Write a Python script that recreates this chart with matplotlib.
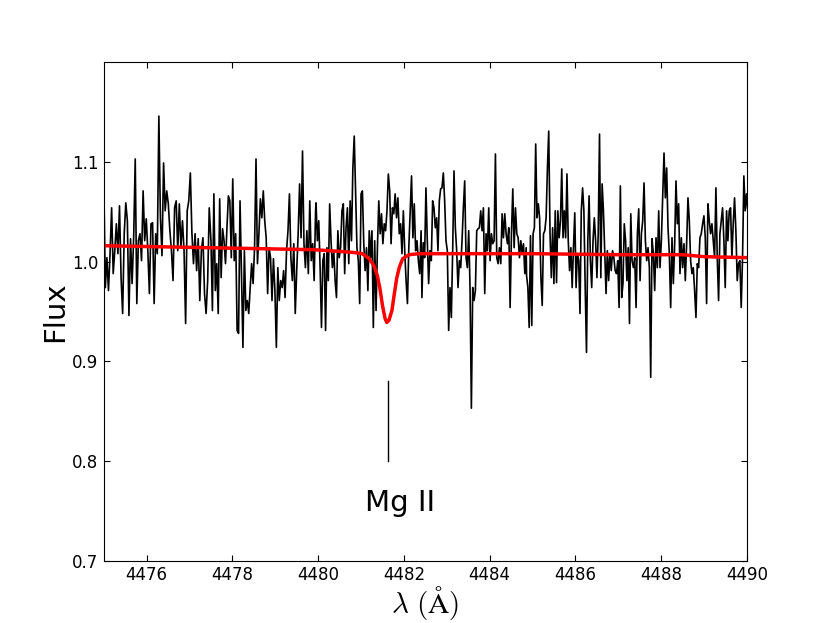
import numpy as np
import matplotlib
matplotlib.use('Agg')
import matplotlib.pyplot as plt

plt.rcParams['mathtext.fontset'] = 'cm'
plt.rcParams['xtick.direction'] = 'in'
plt.rcParams['ytick.direction'] = 'in'
plt.rcParams['xtick.top'] = True
plt.rcParams['ytick.right'] = True

seg_ranges = [(4475.00, 4477.46), (4477.50, 4479.94), (4479.95, 4482.40),
              (4482.42, 4484.85), (4484.86, 4487.29), (4487.32, 4490.02)]

flux_1 = [1.084, 0.974, 1.004, 0.971, 1.008, 1.054, 0.988, 1.011, 1.038, 1.008,
          1.056, 0.984, 0.948, 1.028, 1.059, 1.041, 0.946, 1.023, 0.978, 1.024,
          1.103, 0.958, 1.021, 1.028, 1.001, 1.071, 1.021, 1.043, 1.011, 0.968,
          1.038, 1.039, 0.958, 1.028, 1.008, 1.146, 1.044, 1.006, 1.099, 1.051,
          1.071, 1.058, 1.031, 1.011, 0.981, 1.054, 1.061, 1.011, 1.058, 1.014,
          1.041, 1.011, 0.938, 1.051, 1.061, 1.089, 1.028, 0.998, 1.028, 0.991,
          1.023, 0.961, 1.011, 1.024, 0.968, 0.948, 0.981, 1.054]

flux_2 = [1.021, 0.951, 1.068, 0.971, 0.998, 0.948, 1.063, 0.984, 1.033, 1.021,
          0.998, 1.034, 1.066, 1.061, 1.004, 1.083, 1.001, 1.028, 0.931, 0.928,
          1.061, 0.988, 0.914, 1.011, 0.951, 0.961, 0.948, 0.974, 0.998, 0.978,
          1.014, 1.103, 0.998, 1.028, 1.063, 1.044, 1.071, 1.041, 1.024, 0.968,
          1.014, 1.004, 0.961, 1.003, 0.971, 0.914, 0.994, 0.961, 0.981, 0.974,
          0.991, 0.964, 1.011, 1.031, 1.068, 1.004, 0.981, 1.018, 0.948, 0.991,
          1.028, 1.078, 1.024, 1.111, 1.018, 0.994, 1.031, 0.988, 1.061, 1.001,
          1.018, 0.981, 1.051]

flux_3 = [1.059, 1.021, 1.041, 0.994, 0.934, 1.001, 1.008, 0.931, 1.014, 0.981,
          1.058, 1.021, 0.994, 1.011, 0.981, 0.964, 1.031, 1.004, 1.014, 1.051,
          1.058, 0.988, 1.034, 1.054, 0.998, 1.061, 1.021, 1.094, 1.126, 1.068,
          1.014, 1.001, 0.958, 1.068, 1.071, 1.018, 0.991, 1.014, 0.971, 1.031,
          1.004, 1.031, 0.934, 1.021, 0.951, 1.014, 1.061, 1.028, 1.048, 1.018,
          1.038, 1.031, 1.051, 1.088, 1.071, 1.018, 1.054, 1.048, 1.068, 1.044,
          1.064, 1.028, 1.038, 1.008, 1.051, 1.011, 0.981, 0.958, 1.014, 1.051,
          1.086, 1.024, 1.058, 1.011, 1.021, 1.001, 0.988, 1.031]

flux_4 = [0.964, 1.019, 1.004, 1.074, 1.021, 0.978, 1.011, 1.001, 1.061, 1.054,
          1.034, 1.044, 1.011, 1.061, 1.073, 1.074, 1.089, 1.061, 1.021, 1.011,
          0.931, 0.974, 0.944, 1.011, 1.091, 1.034, 1.011, 0.974, 1.001, 0.994,
          1.021, 1.054, 1.081, 1.004, 0.994, 1.031, 0.974, 0.853, 0.974, 0.961,
          0.971, 1.031, 1.033, 1.034, 1.051, 1.031, 1.054, 0.968, 1.028, 1.011,
          1.054, 1.001, 1.028, 1.018, 1.021, 1.108, 1.004, 0.998, 1.014, 0.998,
          1.048, 1.024, 1.048, 1.028, 1.018, 1.034, 0.954, 1.028, 1.073, 1.014,
          1.054, 1.028, 1.024, 1.004, 1.021, 1.008, 1.018, 0.988, 1.014]

flux_5 = [0.986, 0.974, 0.934, 1.026, 0.936, 1.028, 1.034, 1.118, 1.044, 1.058,
          1.044, 0.984, 0.956, 1.028, 1.031, 1.044, 1.094, 1.131, 1.028, 0.984,
          1.034, 0.978, 1.051, 0.979, 1.051, 1.024, 1.041, 1.093, 1.024, 1.051,
          1.024, 1.088, 1.021, 0.991, 1.014, 0.974, 1.014, 1.049, 0.974, 1.008,
          1.001, 0.948, 1.051, 1.074, 1.051, 0.974, 0.909, 1.021, 1.066, 1.001,
          0.974, 1.021, 1.044, 1.021, 0.984, 1.028, 1.128, 0.984, 1.078, 1.051,
          1.008, 0.968, 1.011, 0.981, 1.008, 0.991, 1.011, 1.004, 0.991, 0.988,
          1.001, 0.954, 1.076, 0.964, 0.978, 1.038, 1.021, 0.981, 1.014, 0.938,
          1.048]

flux_6 = [1.001, 0.994, 1.004, 0.954, 1.028, 1.053, 0.981, 1.028, 1.041, 1.079,
          1.021, 1.001, 1.014, 0.994, 0.884, 1.023, 1.008, 0.971, 1.024, 0.994,
          1.051, 0.994, 1.021, 1.064, 1.109, 1.064, 1.094, 1.034, 1.008, 0.954,
          1.024, 0.978, 1.018, 1.081, 1.038, 1.058, 0.988, 1.024, 0.994, 1.018,
          0.981, 1.018, 1.064, 1.041, 1.001, 0.988, 0.994, 0.971, 0.944, 0.998,
          0.994, 1.024, 1.028, 1.038, 1.046, 1.024, 0.958, 1.058, 1.041, 1.028,
          1.038, 1.021, 1.004, 1.074, 1.004, 0.961, 1.028, 1.041, 1.054, 1.021,
          0.974, 1.051, 1.021, 1.051, 1.054, 1.004, 1.038, 1.064, 1.031, 0.981,
          0.998, 1.001, 0.954, 1.004, 1.086, 1.051, 1.068, 1.051]

flux_segments = [flux_1, flux_2, flux_3, flux_4, flux_5, flux_6]

# model fit (red curve)
model_wave = [4475.00, 4477.46, 4479.90, 4480.60, 4480.87, 4481.03, 4481.19, 4481.30,
              4481.38, 4481.44, 4481.50, 4481.56, 4481.60, 4481.65, 4481.72, 4481.77,
              4481.83, 4481.89, 4481.97, 4482.12, 4482.36, 4485.00, 4487.00, 4488.50,
              4489.00, 4490.00]
model_flux = [1.016, 1.014, 1.012, 1.010, 1.009, 1.008, 1.003, 0.996,
              0.986, 0.973, 0.956, 0.943, 0.939, 0.941, 0.951, 0.966,
              0.983, 0.994, 1.003, 1.007, 1.008, 1.008, 1.007, 1.007,
              1.005, 1.004]

line_wave = 4481.62
line_label = 'Mg II'

wave = np.concatenate([np.linspace(a, b, len(f)) for (a, b), f in zip(seg_ranges, flux_segments)])
flux = np.concatenate(flux_segments)

fig = plt.figure(figsize=(8.3, 6.23), dpi=100)
ax = fig.add_axes([0.125, 0.1, 0.775, 0.8])

ax.plot(wave, flux, color='black', linewidth=1.2)
ax.plot(model_wave, model_flux, color='red', linewidth=2.5)

# line marker and label
ax.plot([line_wave, line_wave], [0.80, 0.88], color='black', linewidth=1.0)
ax.text(4481.1, 0.75, line_label, fontsize=21, ha='left', va='baseline')

ax.set_xlim(4475, 4490)
ax.set_ylim(0.7, 1.2)
ax.set_xticks(np.arange(4476, 4491, 2))
ax.set_yticks([0.7, 0.8, 0.9, 1.0, 1.1])
ax.tick_params(labelsize=12, length=4, width=0.8, pad=4)

ax.set_xlabel(r'$\lambda\ (\mathrm{\AA})$', fontsize=21, labelpad=0)
ax.set_ylabel('Flux', fontsize=21, labelpad=2)

fig.savefig('out.png', dpi=100)
